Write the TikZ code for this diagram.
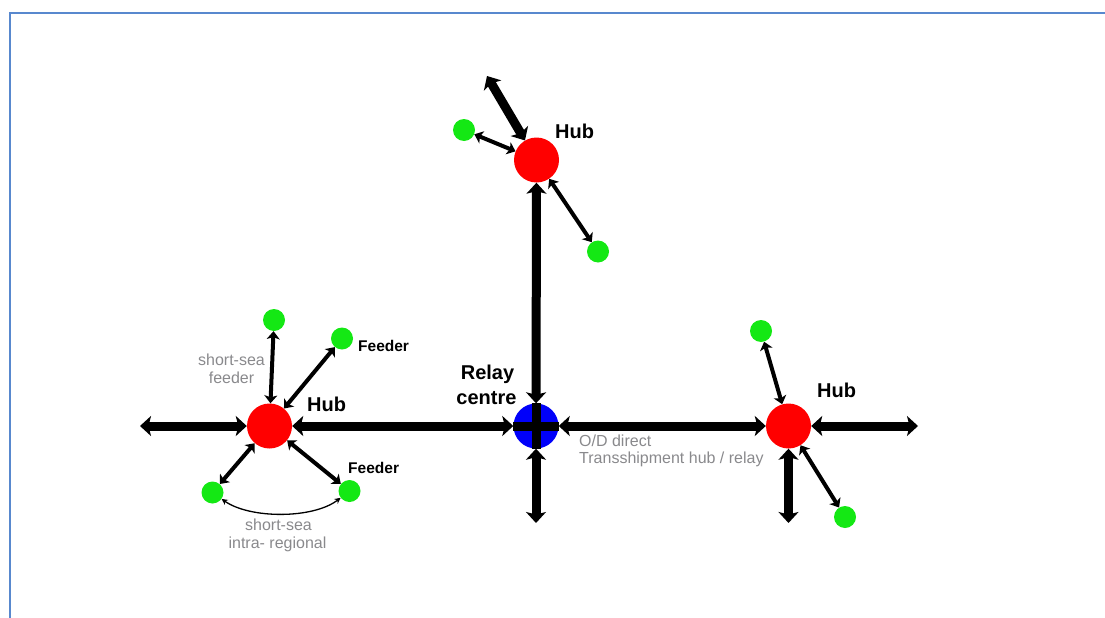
\documentclass[tikz,border=0pt]{standalone}
\usepackage{fontspec}
\setmainfont{Liberation Sans}
\usetikzlibrary{arrows.meta}

\definecolor{hubred}{RGB}{255,0,0}
\definecolor{relayblue}{RGB}{0,0,250}
\definecolor{feedgreen}{RGB}{20,232,20}
\definecolor{notegray}{RGB}{137,137,140}
\definecolor{frameblue}{RGB}{88,136,206}

\tikzset{
  hub/.style={circle, fill=hubred, minimum size=45pt, inner sep=0pt},
  relay/.style={circle, fill=relayblue, minimum size=45pt, inner sep=0pt},
  port/.style={circle, fill=feedgreen, minimum size=22pt, inner sep=0pt},
  trunk/.style={line width=9pt, {Stealth[length=11pt,width=20pt,inset=2.5pt]}-{Stealth[length=11pt,width=20pt,inset=2.5pt]}},
  feederlink/.style={line width=4pt, {Stealth[length=8pt,width=13pt,inset=2pt]}-{Stealth[length=8pt,width=13pt,inset=2pt]}},
  intralink/.style={line width=1.3pt, {Stealth[length=6pt,width=6pt]}-{Stealth[length=6pt,width=6pt]}},
  hubtext/.style={inner sep=0pt, anchor=base west, font=\fontsize{20}{24}\selectfont\bfseries},
  feedtext/.style={inner sep=0pt, anchor=base west, font=\fontsize{15.5}{18}\selectfont\bfseries},
  note/.style={inner sep=0pt, text=notegray, font=\fontsize{16}{18}\selectfont},
}

\begin{document}
\begin{tikzpicture}[x=1pt, y=-1pt]
  \useasboundingbox (0,0) rectangle (1105,618);

  % page frame
  \draw[frameblue, line width=2pt] (1105,13.5) -- (10,13.5) -- (10,618);

  % hubs and relay centre
  \node[hub]   (lh) at (269.5,426) {};
  \node[hub]   (th) at (536.5,160) {};
  \node[hub]   (rh) at (788.5,426) {};
  \node[relay] (rc) at (536,426) {};

  % feeder ports
  \node[port] (l1) at (274,320) {};
  \node[port] (l2) at (342,338.5) {};
  \node[port] (l3) at (212.5,492.5) {};
  \node[port] (l4) at (349.5,491) {};
  \node[port] (t1) at (464,130) {};
  \node[port] (t2) at (598,251.5) {};
  \node[port] (r1) at (761,331) {};
  \node[port] (r2) at (845,517) {};

  % free ends of trunk routes
  \coordinate (lw) at (140,426);
  \coordinate (re) at (918,426);
  \coordinate (tn) at (487,76);
  \coordinate (cs) at (536,523);
  \coordinate (rs) at (788.5,523);

  % trunk routes
  \draw[trunk] (lw) -- (lh);
  \draw[trunk] (lh) -- (rc);
  \draw[trunk] (rc) -- (rh);
  \draw[trunk] (rh) -- (re);
  \draw[trunk] (rc) -- (th);
  \draw[trunk] (rc) -- (cs);
  \draw[trunk] (th) -- (tn);
  \draw[trunk] (rh) -- (rs);

  % relay crossing drawn over the blue disc
  \draw[line width=9pt] (rc.west) -- (rc.east);
  \draw[line width=9pt] (rc.north) -- (rc.south);

  % feeder links
  \draw[feederlink] (lh) -- (l1);
  \draw[feederlink] (lh) -- (l2);
  \draw[feederlink] (lh) -- (l3);
  \draw[feederlink] (lh) -- (l4);
  \draw[feederlink] (th) -- (t1);
  \draw[feederlink] (th) -- (t2);
  \draw[feederlink] (rh) -- (r1);
  \draw[feederlink] (rh) -- (r2);

  % intra-regional short-sea link
  \draw[intralink] (l3) .. controls (250,519) and (313,519) .. (l4);

  % labels
  \node[hubtext] (lhl) at (307,411) {Hub};
  \node[hubtext] (thl) at (555,138) {Hub};
  \node[hubtext] (rhl) at (817,397) {Hub};
  \node[hubtext, anchor=base] (rcl1) at (487.5,379) {Relay};
  \node[hubtext, anchor=base] (rcl2) at (486.5,404) {centre};

  \node[feedtext] (f1) at (358,351) {Feeder};
  \node[feedtext] (f2) at (348,473) {Feeder};

  \node[note, anchor=base] (ss1) at (231.5,365) {short-sea};
  \node[note, anchor=base] (ss2) at (231.5,383) {feeder};
  \node[note, anchor=base] (ir1) at (278.5,530) {short-sea};
  \node[note, anchor=base] (ir2) at (277.5,548) {intra- regional};
  \node[note, anchor=base west] (od1) at (579,446) {O/D direct};
  \node[note, anchor=base west] (od2) at (579,463) {Transshipment hub / relay};
\end{tikzpicture}
\end{document}
